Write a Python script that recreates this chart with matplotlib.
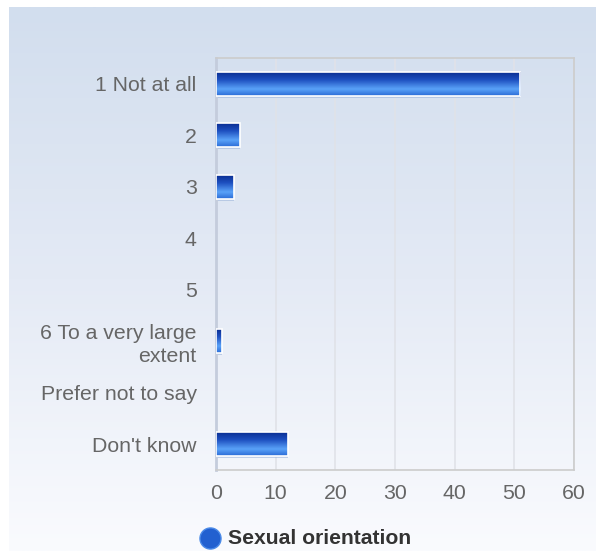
import numpy as np
import matplotlib
matplotlib.use("Agg")
import matplotlib.pyplot as plt
from matplotlib.colors import LinearSegmentedColormap
from matplotlib.patches import Rectangle

categories = ["1 Not at all", "2", "3", "4", "5", "6 To a very large\nextent",
              "Prefer not to say", "Don't know"]
values = [51, 4, 3, 0, 0, 1, 0, 12]
xticks = [0, 10, 20, 30, 40, 50, 60]
series_name = "Sexual orientation"

plt.rcParams['font.family'] = ['Liberation Sans', 'DejaVu Sans']

W, H = 596, 551
fig = plt.figure(figsize=(W / 100, H / 100), dpi=100)
fig.patch.set_facecolor("white")

# background gradient panel
bg = fig.add_axes([0, 0, 1, 1], zorder=-10)
bg.set_xlim(0, W); bg.set_ylim(H, 0); bg.axis("off")
bgcmap = LinearSegmentedColormap.from_list("bg", ["#d2deee", "#e4eaf5", "#fafbfe"])
grad = np.linspace(0, 1, 256).reshape(-1, 1)
bg.imshow(grad, cmap=bgcmap, extent=[9, W, H, 7], aspect="auto", interpolation="bilinear")

# main axes
l, r, t, b = 216, 574, 58, 470
ax = fig.add_axes([l / W, 1 - b / H, (r - l) / W, (b - t) / H])
ax.patch.set_alpha(0)
y = np.arange(len(categories))
bars = ax.barh(y, values, height=0.47, facecolor="none", edgecolor="none", zorder=3)

barcmap = LinearSegmentedColormap.from_list(
    "bar", [(0, "#082a8c"), (0.35, "#1e50c0"), (0.72, "#5aa2f8"), (1, "#2a6ad6")])
g = np.linspace(0, 1, 128).reshape(-1, 1)
for rect, v in zip(bars, values):
    if v <= 0:
        continue
    x0, y0 = rect.get_x(), rect.get_y()
    w, h = rect.get_width(), rect.get_height()
    ax.add_patch(Rectangle((x0, y0 + h * 0.08), w, h, facecolor="#9fb6dc", alpha=0.6,
                           edgecolor="none", zorder=2))
    im = ax.imshow(g, cmap=barcmap, extent=[x0, x0 + w, y0 + h, y0], aspect="auto",
                   interpolation="bilinear", zorder=3)
    clip = Rectangle((x0, y0), w, h, transform=ax.transData, facecolor="none")
    im.set_clip_path(clip)
    ax.add_patch(Rectangle((x0, y0), w, h, facecolor="none", edgecolor="white",
                           linewidth=1.2, zorder=4))
ax.set_aspect("auto")
ax.set_xlim(0, 60)
ax.set_ylim(len(categories) - 0.5, -0.5)

ax.set_xticks(xticks)
ax.set_xticklabels([str(v) for v in xticks])
ax.set_yticks(y)
ax.set_yticklabels(categories, linespacing=1.25)
ax.tick_params(axis="both", length=0, labelsize=15.3, colors="#666666")
ax.tick_params(axis="x", pad=10)
ax.tick_params(axis="y", pad=14)
for lab in ax.get_yticklabels():
    lab.set_horizontalalignment("right")
ax.xaxis.grid(True, color="#e0e2e8", linewidth=1.2, zorder=0)
ax.set_axisbelow(True)
for s in ["top", "right", "bottom"]:
    ax.spines[s].set_color("#cccccc")
    ax.spines[s].set_linewidth(1.2)
ax.spines["left"].set_color("#c4ccdc")
ax.spines["left"].set_linewidth(2)

# legend
leg = fig.add_axes([0, 0, 1, 1], zorder=5)
leg.set_xlim(0, W); leg.set_ylim(H, 0); leg.axis("off")
leg.scatter([210], [538], s=230, c="#2260d0", edgecolors="#4a8ae8", linewidths=1.0)
leg.text(228, 539, series_name, fontsize=15.2, fontweight="bold", color="#333333",
         va="center", ha="left")

fig.savefig("out.png", dpi=100, facecolor="white")
